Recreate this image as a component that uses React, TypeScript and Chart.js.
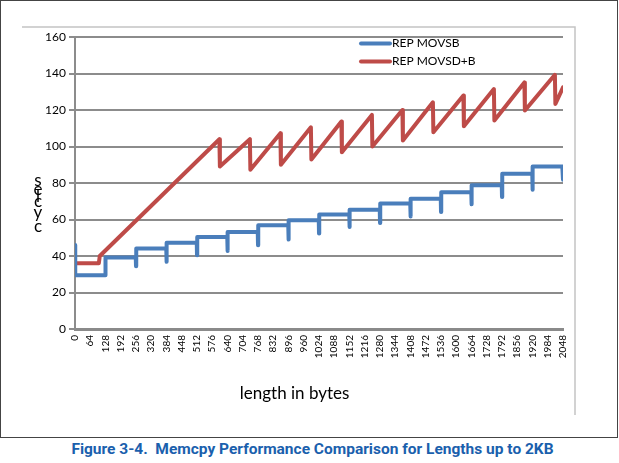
import React, { useEffect, useRef } from "react";
import { Chart, registerables } from "chart.js";

Chart.register(...registerables);

// ---------- data ----------
const seriesNames = ["REP MOVSB", "REP MOVSD+B"];
const seriesColors = ["#4a7ebb", "#be4b48"];

const xMin = 0;
const xMax = 2048;
const xTickStep = 64;
const yMin = 0;
const yMax = 160;
const yTickStep = 20;

// REP MOVSB (blue): length in bytes -> cycles
const movsbLengths = [
  0, 1, 127, 128,
  255, 256, 257, 383, 384, 385, 511, 512, 513, 639, 640, 641,
  767, 768, 769, 895, 896, 897, 1023, 1024, 1025, 1151, 1152, 1153,
  1279, 1280, 1281, 1407, 1408, 1409, 1535, 1536, 1537, 1663, 1664, 1665,
  1791, 1792, 1793, 1919, 1920, 1921, 2045, 2048,
];
const movsbCycles = [
  46, 29.5, 29.5, 39.2,
  39.2, 34.4, 44.1, 44.1, 36.8, 47.2, 47.2, 40.4, 50.4, 50.4, 42.8, 53.2,
  53.2, 45.9, 56.8, 56.8, 49.0, 59.6, 59.6, 52.3, 62.8, 62.8, 55.9, 65.4,
  65.4, 58.1, 68.7, 68.7, 61.7, 71.4, 71.4, 64.1, 75.0, 75.0, 68.3, 78.7,
  78.7, 72.3, 85.1, 85.1, 76.3, 89.1, 89.1, 81.8,
];

// REP MOVSD+B (red)
const movsdLengths = [
  0, 100, 104, 606, 608,
  734, 736, 862, 864, 990, 992, 1118, 1120, 1246, 1248, 1374, 1376,
  1502, 1504, 1630, 1632, 1758, 1760, 1886, 1888, 2014, 2016, 2048,
];
const movsdCycles = [
  36, 36, 40, 104, 89.0,
  104.0, 87.3, 107.3, 90.0, 110.5, 92.9, 113.7, 96.9, 117.3, 100.0, 120.0, 103.3,
  124.2, 107.8, 127.9, 111.1, 131.5, 114.2, 135.1, 119.7, 139.3, 123.3, 132.4,
];

const xAxisTitle = "length in bytes";
const yAxisTitleLetters = ["c", "y", "c", "l", "e", "s"]; // stacked, bottom to top
const caption = "Figure 3-4.  Memcpy Performance Comparison for Lengths up to 2KB";

const toPoints = (xs: number[], ys: number[]) => xs.map((x, i) => ({ x, y: ys[i] }));

const decorPlugin = {
  id: "decor",
  beforeDraw(chart: any) {
    const ctx = chart.ctx;
    ctx.save();
    ctx.strokeStyle = "#c4c4c4";
    ctx.lineWidth = 1.5;
    ctx.beginPath();
    ctx.moveTo(22, 27);
    ctx.lineTo(575, 27);
    ctx.lineTo(575, 415);
    ctx.stroke();
    ctx.restore();
  },
  afterDraw(chart: any) {
    const ctx = chart.ctx;
    const area = chart.chartArea;
    ctx.save();
    // legend inside plot area
    const ds = chart.data.datasets;
    const lx = 361;
    const ly = [43.5, 61.5];
    ds.forEach((d: any, i: number) => {
      ctx.strokeStyle = d.borderColor;
      ctx.lineWidth = 4;
      ctx.lineCap = "round";
      ctx.beginPath();
      ctx.moveTo(lx, ly[i]);
      ctx.lineTo(lx + 29, ly[i]);
      ctx.stroke();
      ctx.fillStyle = "#000";
      ctx.font = "12px Lato";
      ctx.textBaseline = "middle";
      ctx.textAlign = "left";
      ctx.fillText(d.label, lx + 31, ly[i]);
    });
    // x axis title
    ctx.font = "17px Lato";
    ctx.textAlign = "center";
    ctx.textBaseline = "middle";
    ctx.fillStyle = "#000";
    ctx.fillText(xAxisTitle, area.left + (area.right - area.left) * 0.45, 394);
    // y axis title, stacked letters
    ctx.font = "17px Lato";
    const ys = [227, 213, 202, 197, 190, 181];
    yAxisTitleLetters.forEach((ch, i) => {
      ctx.fillText(ch, 38, ys[i]);
    });
    ctx.restore();
  },
};

export default function App() {
  const ref = useRef<HTMLCanvasElement>(null);

  useEffect(() => {
    const chart = new Chart(ref.current as HTMLCanvasElement, {
      type: "line",
      data: {
        datasets: [
          {
            label: seriesNames[0],
            data: toPoints(movsbLengths, movsbCycles),
            borderColor: seriesColors[0],
            backgroundColor: seriesColors[0],
            borderWidth: 4,
            pointRadius: 0,
            tension: 0,
            borderJoinStyle: "round",
            borderCapStyle: "round",
          },
          {
            label: seriesNames[1],
            data: toPoints(movsdLengths, movsdCycles),
            borderColor: seriesColors[1],
            backgroundColor: seriesColors[1],
            borderWidth: 4,
            pointRadius: 0,
            tension: 0,
            borderJoinStyle: "round",
            borderCapStyle: "round",
          },
        ],
      },
      options: {
        responsive: false,
        animation: false,
        layout: { padding: { left: 20, top: 37, right: 56, bottom: 18 } },
        plugins: {
          legend: { display: false },
          tooltip: { enabled: false },
          title: { display: false },
        },
        scales: {
          x: {
            type: "linear",
            min: xMin,
            max: xMax,
            grid: { display: false, drawTicks: false },
            border: { display: true, color: "#8a8a8a", width: 3 },
            ticks: {
              stepSize: xTickStep,
              autoSkip: false,
              minRotation: 90,
              maxRotation: 90,
              padding: 6,
              color: "#000",
              font: { family: "Lato", size: 10 },
              callback: (v: any) => String(v),
            },
            afterFit: (s: any) => {
              s.height = 90;
            },
          },
          y: {
            min: yMin,
            max: yMax,
            grid: { color: "#8c8c8c", lineWidth: 2, tickLength: 6 },
            border: { display: true, color: "#8c8c8c", width: 2 },
            ticks: {
              stepSize: yTickStep,
              padding: 3,
              color: "#000",
              font: { family: "Lato", size: 12 },
              callback: (v: any) => String(v),
            },
            afterFit: (s: any) => {
              s.width = 55;
            },
          },
        },
      },
      plugins: [decorPlugin],
    } as any);
    return () => chart.destroy();
  }, []);

  return (
    <div
      style={{
        position: "absolute",
        left: 0,
        top: 0,
        width: 619,
        height: 463,
        background: "#fff",
        overflow: "hidden",
      }}
    >
      <div
        style={{
          position: "absolute",
          left: 0,
          top: 0,
          width: 616,
          height: 436,
          border: "1px solid #444",
        }}
      />
      <canvas
        ref={ref}
        width={619}
        height={437}
        style={{ position: "absolute", left: 0, top: 0 }}
      />
      <div
        style={{
          position: "absolute",
          left: 3,
          top: 440,
          width: 619,
          textAlign: "center",
          whiteSpace: "pre",
          fontFamily: "Roboto",
          fontWeight: "bold",
          fontSize: 15.5,
          color: "#1a60ad",
        }}
      >
        {caption}
      </div>
    </div>
  );
}
